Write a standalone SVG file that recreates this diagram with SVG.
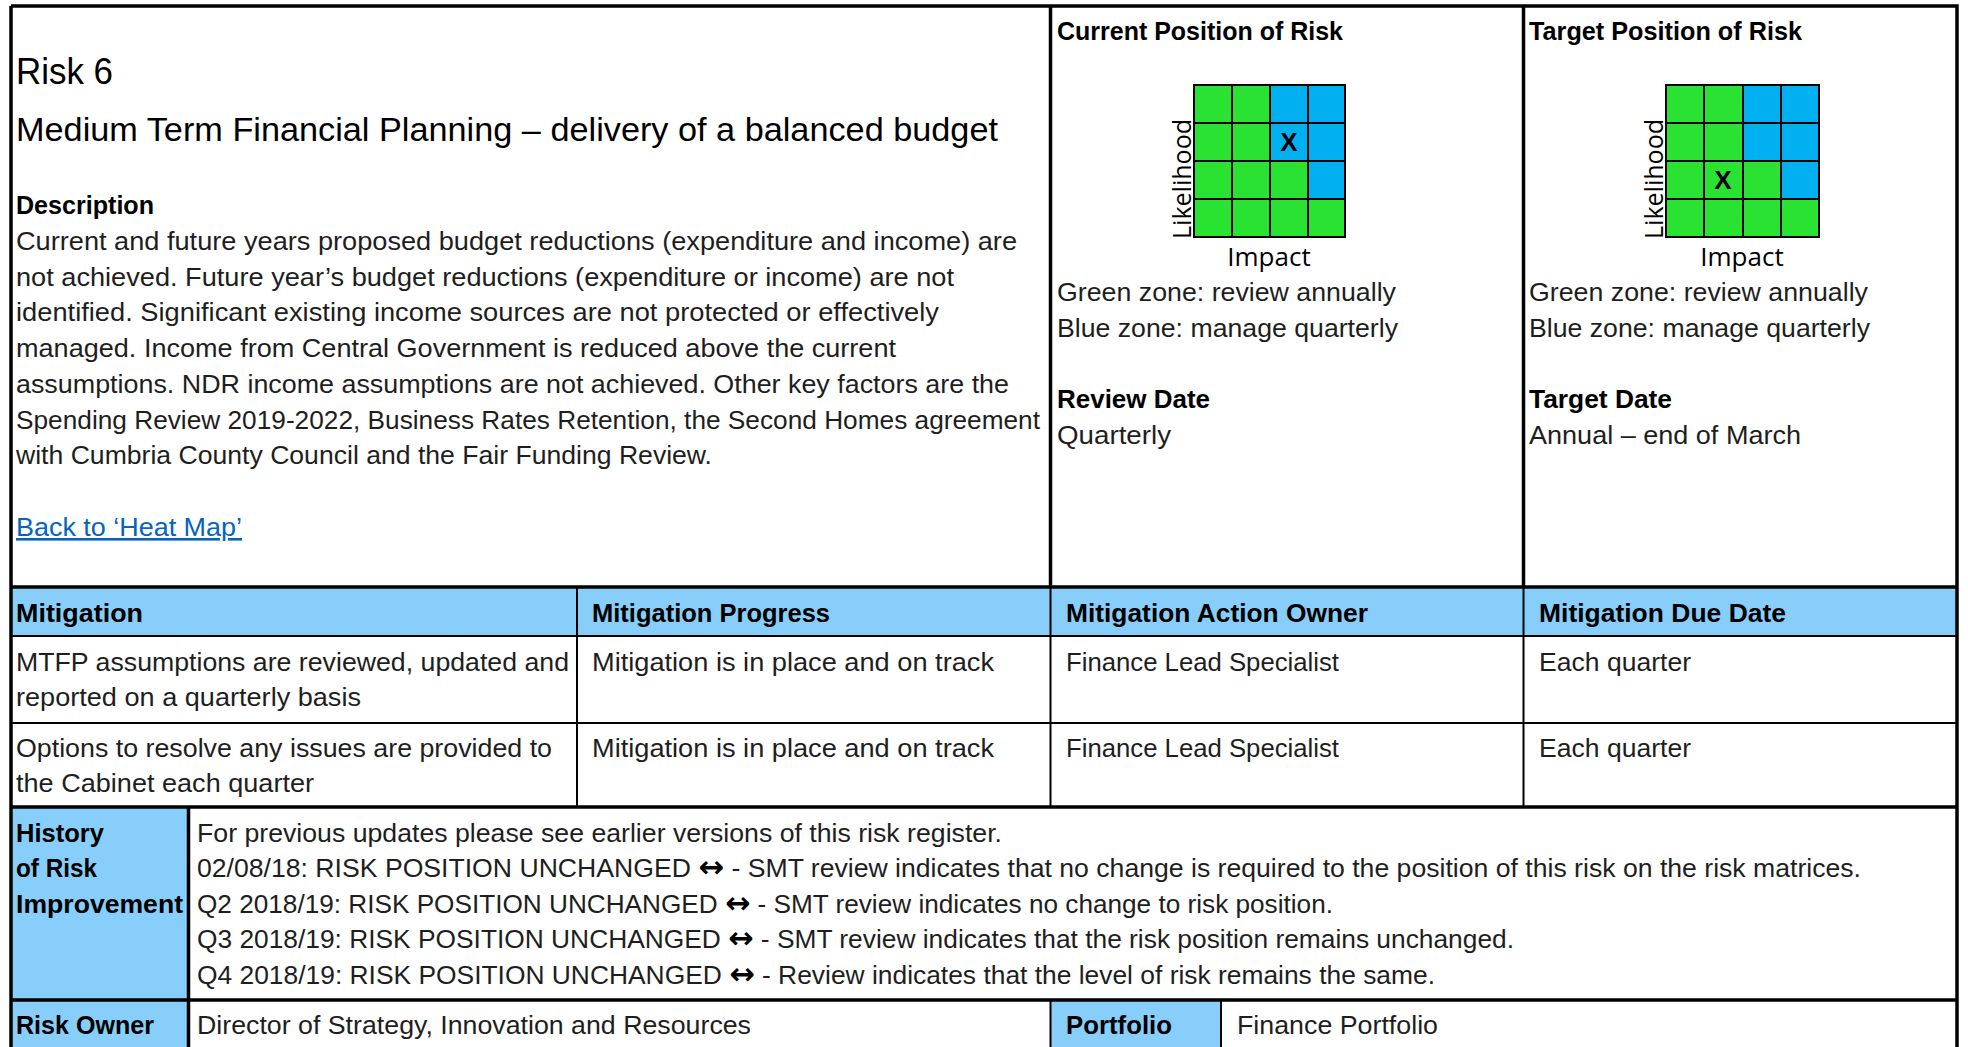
<svg xmlns="http://www.w3.org/2000/svg" width="1968" height="1047" viewBox="0 0 1968 1047">
<style>
text{font-family:"Liberation Sans",Arial,sans-serif;fill:#1e1e1e;font-size:26px}
.b{font-weight:bold;fill:#000}
.h1{font-size:37px;fill:#000}
.h2{font-size:33px;fill:#000}
.lnk{fill:#0563C1;text-decoration:underline}
.ax{font-family:"Open Sans","Liberation Sans",sans-serif;font-size:26px;fill:#000}
.x{font-weight:bold;font-size:26px;fill:#000}
.arr{font-family:"DejaVu Sans",sans-serif;font-weight:bold;font-size:30px;fill:#000}
.hdr{fill:#88CEFA}
.g{fill:#29E231;stroke:#000;stroke-width:2}
.bl{fill:#00B0F0;stroke:#000;stroke-width:2}
.thick{stroke:#000;stroke-width:3.5;fill:none}
.thin{stroke:#000;stroke-width:2;fill:none}
</style>
<rect width="1968" height="1047" fill="#fff"/>

<g id="fills">
<rect class="hdr" x="11" y="587" width="1946" height="49"/>
<rect class="hdr" x="11" y="807" width="177" height="240"/>
<rect class="hdr" x="1050" y="1000" width="171" height="47"/>
</g>

<g id="description">
<text class="h1" x="16" y="84" textLength="97" lengthAdjust="spacingAndGlyphs">Risk 6</text>
<text class="h2" x="16" y="141" textLength="982" lengthAdjust="spacingAndGlyphs">Medium Term Financial Planning – delivery of a balanced budget</text>
<text class="b" x="16" y="214" textLength="138" lengthAdjust="spacingAndGlyphs">Description</text>
<text x="16" y="250" textLength="1001" lengthAdjust="spacingAndGlyphs">Current and future years proposed budget reductions (expenditure and income) are</text>
<text x="16" y="286" textLength="938" lengthAdjust="spacingAndGlyphs">not achieved. Future year’s budget reductions (expenditure or income) are not</text>
<text x="16" y="321" textLength="923" lengthAdjust="spacingAndGlyphs">identified. Significant existing income sources are not protected or effectively</text>
<text x="16" y="357" textLength="880" lengthAdjust="spacingAndGlyphs">managed. Income from Central Government is reduced above the current</text>
<text x="16" y="393" textLength="993" lengthAdjust="spacingAndGlyphs">assumptions. NDR income assumptions are not achieved. Other key factors are the</text>
<text x="16" y="429" textLength="1024" lengthAdjust="spacingAndGlyphs">Spending Review 2019-2022, Business Rates Retention, the Second Homes agreement</text>
<text x="16" y="464" textLength="696" lengthAdjust="spacingAndGlyphs">with Cumbria County Council and the Fair Funding Review.</text>
<text class="lnk" x="16" y="536" textLength="226" lengthAdjust="spacingAndGlyphs">Back to ‘Heat Map’</text>
</g>

<g id="current-position">
<text class="b" x="1057" y="40" textLength="286" lengthAdjust="spacingAndGlyphs">Current Position of Risk</text>
<g id="current-grid">
<rect class="g" x="1194" y="85" width="38" height="38"/><rect class="g" x="1232" y="85" width="38" height="38"/><rect class="bl" x="1270" y="85" width="38" height="38"/><rect class="bl" x="1308" y="85" width="37" height="38"/>
<rect class="g" x="1194" y="123" width="38" height="38"/><rect class="g" x="1232" y="123" width="38" height="38"/><rect class="bl" x="1270" y="123" width="38" height="38"/><rect class="bl" x="1308" y="123" width="37" height="38"/>
<rect class="g" x="1194" y="161" width="38" height="38"/><rect class="g" x="1232" y="161" width="38" height="38"/><rect class="g" x="1270" y="161" width="38" height="38"/><rect class="bl" x="1308" y="161" width="37" height="38"/>
<rect class="g" x="1194" y="199" width="38" height="38"/><rect class="g" x="1232" y="199" width="38" height="38"/><rect class="g" x="1270" y="199" width="38" height="38"/><rect class="g" x="1308" y="199" width="37" height="38"/>
<text class="x" x="1289" y="151" text-anchor="middle">X</text>
</g>
<text class="ax" transform="translate(1191,179) rotate(-90)" text-anchor="middle" textLength="120" lengthAdjust="spacingAndGlyphs">Likelihood</text>
<text class="ax" x="1269" y="266" text-anchor="middle">Impact</text>
<text x="1057" y="301" textLength="339" lengthAdjust="spacingAndGlyphs">Green zone: review annually</text>
<text x="1057" y="337" textLength="341" lengthAdjust="spacingAndGlyphs">Blue zone: manage quarterly</text>
<text class="b" x="1057" y="408" textLength="153" lengthAdjust="spacingAndGlyphs">Review Date</text>
<text x="1057" y="444" textLength="114" lengthAdjust="spacingAndGlyphs">Quarterly</text>
</g>

<g id="target-position">
<text class="b" x="1529" y="40" textLength="273" lengthAdjust="spacingAndGlyphs">Target Position of Risk</text>
<g id="target-grid">
<rect class="g" x="1666" y="85" width="38" height="38"/><rect class="g" x="1704" y="85" width="39" height="38"/><rect class="bl" x="1743" y="85" width="38" height="38"/><rect class="bl" x="1781" y="85" width="38" height="38"/>
<rect class="g" x="1666" y="123" width="38" height="38"/><rect class="g" x="1704" y="123" width="39" height="38"/><rect class="bl" x="1743" y="123" width="38" height="38"/><rect class="bl" x="1781" y="123" width="38" height="38"/>
<rect class="g" x="1666" y="161" width="38" height="38"/><rect class="g" x="1704" y="161" width="39" height="38"/><rect class="g" x="1743" y="161" width="38" height="38"/><rect class="bl" x="1781" y="161" width="38" height="38"/>
<rect class="g" x="1666" y="199" width="38" height="38"/><rect class="g" x="1704" y="199" width="39" height="38"/><rect class="g" x="1743" y="199" width="38" height="38"/><rect class="g" x="1781" y="199" width="38" height="38"/>
<text class="x" x="1723" y="189" text-anchor="middle">X</text>
</g>
<text class="ax" transform="translate(1663,179) rotate(-90)" text-anchor="middle" textLength="120" lengthAdjust="spacingAndGlyphs">Likelihood</text>
<text class="ax" x="1742" y="266" text-anchor="middle">Impact</text>
<text x="1529" y="301" textLength="339" lengthAdjust="spacingAndGlyphs">Green zone: review annually</text>
<text x="1529" y="337" textLength="341" lengthAdjust="spacingAndGlyphs">Blue zone: manage quarterly</text>
<text class="b" x="1529" y="408" textLength="143" lengthAdjust="spacingAndGlyphs">Target Date</text>
<text x="1529" y="444" textLength="272" lengthAdjust="spacingAndGlyphs">Annual – end of March</text>
</g>

<g id="mitigation">
<text class="b" x="16" y="622" textLength="127" lengthAdjust="spacingAndGlyphs">Mitigation</text>
<text class="b" x="592" y="622" textLength="238" lengthAdjust="spacingAndGlyphs">Mitigation Progress</text>
<text class="b" x="1066" y="622" textLength="302" lengthAdjust="spacingAndGlyphs">Mitigation Action Owner</text>
<text class="b" x="1539" y="622" textLength="247" lengthAdjust="spacingAndGlyphs">Mitigation Due Date</text>
<text x="16" y="671" textLength="553" lengthAdjust="spacingAndGlyphs">MTFP assumptions are reviewed, updated and</text>
<text x="16" y="706" textLength="345" lengthAdjust="spacingAndGlyphs">reported on a quarterly basis</text>
<text x="592" y="671" textLength="402" lengthAdjust="spacingAndGlyphs">Mitigation is in place and on track</text>
<text x="1066" y="671" textLength="273" lengthAdjust="spacingAndGlyphs">Finance Lead Specialist</text>
<text x="1539" y="671" textLength="152" lengthAdjust="spacingAndGlyphs">Each quarter</text>
<text x="16" y="757" textLength="536" lengthAdjust="spacingAndGlyphs">Options to resolve any issues are provided to</text>
<text x="16" y="792" textLength="298" lengthAdjust="spacingAndGlyphs">the Cabinet each quarter</text>
<text x="592" y="757" textLength="402" lengthAdjust="spacingAndGlyphs">Mitigation is in place and on track</text>
<text x="1066" y="757" textLength="273" lengthAdjust="spacingAndGlyphs">Finance Lead Specialist</text>
<text x="1539" y="757" textLength="152" lengthAdjust="spacingAndGlyphs">Each quarter</text>
</g>

<g id="history">
<text class="b" x="16" y="842" textLength="88" lengthAdjust="spacingAndGlyphs">History</text>
<text class="b" x="16" y="877" textLength="81" lengthAdjust="spacingAndGlyphs">of Risk</text>
<text class="b" x="16" y="913" textLength="167" lengthAdjust="spacingAndGlyphs">Improvement</text>
<text x="197" y="842" textLength="805" lengthAdjust="spacingAndGlyphs">For previous updates please see earlier versions of this risk register.</text>
<text x="197" y="877" textLength="1664" lengthAdjust="spacingAndGlyphs">02/08/18: RISK POSITION UNCHANGED <tspan class="arr">↔</tspan> - SMT review indicates that no change is required to the position of this risk on the risk matrices.</text>
<text x="197" y="913" textLength="1136" lengthAdjust="spacingAndGlyphs">Q2 2018/19: RISK POSITION UNCHANGED <tspan class="arr">↔</tspan> - SMT review indicates no change to risk position.</text>
<text x="197" y="948" textLength="1317" lengthAdjust="spacingAndGlyphs">Q3 2018/19: RISK POSITION UNCHANGED <tspan class="arr">↔</tspan> - SMT review indicates that the risk position remains unchanged.</text>
<text x="197" y="984" textLength="1238" lengthAdjust="spacingAndGlyphs">Q4 2018/19: RISK POSITION UNCHANGED <tspan class="arr">↔</tspan> -  Review indicates that the level of risk remains the same.</text>
</g>

<g id="owner">
<text class="b" x="16" y="1034" textLength="138" lengthAdjust="spacingAndGlyphs">Risk Owner</text>
<text x="197" y="1034" textLength="554" lengthAdjust="spacingAndGlyphs">Director of Strategy, Innovation and Resources</text>
<text class="b" x="1066" y="1034" textLength="106" lengthAdjust="spacingAndGlyphs">Portfolio</text>
<text x="1237" y="1034" textLength="201" lengthAdjust="spacingAndGlyphs">Finance Portfolio</text>
</g>

<g id="connectors">
<path class="thick" d="M11 6H1957V1047M11 6V1047"/>
<path class="thick" d="M1050.5 6V587M1523.5 6V587"/>
<path class="thick" d="M11 587H1957M11 807H1957M11 1000H1957"/>
<path class="thin" d="M11 636H1957M11 723H1957"/>
<path class="thin" d="M577 587V807M1050.5 587V807M1523.5 587V807"/>
<path class="thick" d="M188.5 807V1047"/>
<path class="thin" d="M1050.5 1000V1047M1221 1000V1047"/>
</g>
</svg>
